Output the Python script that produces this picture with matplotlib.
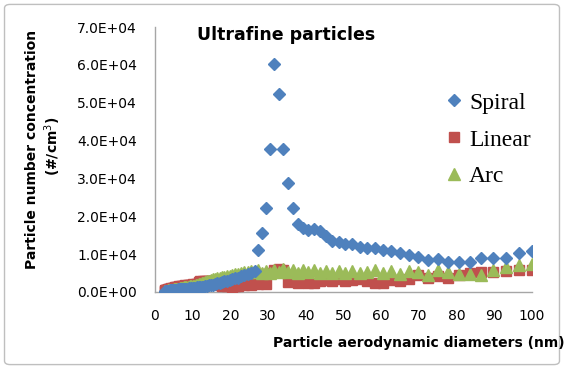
import matplotlib
matplotlib.use('Agg')
import matplotlib.pyplot as plt
from matplotlib.patches import FancyBboxPatch
from matplotlib.ticker import FuncFormatter, MultipleLocator

# particle aerodynamic diameter bins (nm)
diameters = [
    2.55, 2.64, 2.74, 2.84, 2.94, 3.05, 3.16, 3.28, 3.40, 3.52,
    3.65, 3.79, 3.92, 4.07, 4.22, 4.37, 4.53, 4.70, 4.87, 5.05,
    5.23, 5.43, 5.62, 5.83, 6.04, 6.26, 6.49, 6.73, 6.98, 7.23,
    7.50, 7.77, 8.06, 8.35, 8.66, 8.98, 9.31, 9.65,
    10.00, 10.37, 10.75, 11.14, 11.55, 11.97, 12.41, 12.86, 13.34, 13.82,
    14.33, 14.86, 15.40, 15.96, 16.55, 17.15, 17.78, 18.43, 19.11, 19.81,
    20.54, 21.29, 22.07, 22.88, 23.71, 24.58, 25.48, 26.42, 27.38, 28.39,
    29.43, 30.51, 31.62, 32.78, 33.98, 35.22, 36.52, 37.85, 39.24, 40.68,
    42.17, 43.71, 45.32, 46.98, 48.70, 50.48, 52.33, 54.25, 56.23, 58.29,
    60.43, 62.64, 64.94, 67.32, 69.78, 72.34, 74.99, 77.74, 80.58, 83.54,
    86.60, 89.77, 93.06, 96.47, 100.00,
]

spiral = [
    100, 150, 100, 200, 150, 250, 200, 300, 250, 300,
    350, 300, 400, 350, 450, 400, 500, 450, 550, 500,
    600, 550, 650, 600, 700, 650, 700, 750, 700, 800,
    750, 850, 800, 900, 850, 950, 900, 1000,
    1000, 1100, 1100, 1200, 1250, 1300, 1400, 1450, 1550, 1650,
    1750, 1850, 1950, 2100, 2250, 2400, 2600, 2800, 3000, 3200,
    3400, 3600, 3800, 4100, 4400, 4700, 5000, 5600, 11100, 15600,
    22100, 37700, 60300, 52400, 37700, 28800, 22100, 18000, 17000, 16300,
    16700, 16000, 14800, 13500, 13200, 12800, 12700, 11800, 11600, 11700,
    11100, 10700, 10200, 9800, 9300, 8400, 8600, 8000, 8000, 8000,
    9100, 9100, 9100, 10200, 10900,
]

linear = [
    300, 400, 300, 500, 400, 500, 600, 500, 700, 600,
    700, 800, 700, 900, 800, 1000, 900, 1000, 1100, 1000,
    1200, 1100, 1300, 1200, 1400, 1300, 1500, 1400, 1600, 1500,
    1700, 1600, 1800, 1700, 1800, 1900, 1800, 1900,
    2000, 1900, 2100, 2000, 2600, 2800, 2700, 2900, 2800, 2900,
    2800, 2900, 2800, 2700, 2900, 1800, 1600, 1900, 1500, 1800,
    1400, 1700, 1500, 2000, 1800, 2200, 1900, 2400, 2000, 4800,
    2200, 5000, 5800, 6000, 5800, 2600, 3000, 2500, 3200, 2400,
    2300, 3000, 3200, 3000, 3300, 2900, 3100, 3300, 3000, 2500,
    2400, 3200, 3000, 3300, 4500, 3800, 4200, 3800, 4600, 5000,
    5300, 5300, 5500, 5800, 5800,
]

arc = [
    100, 200, 150, 250, 200, 300, 250, 350, 300, 400,
    400, 500, 450, 550, 500, 600, 550, 650, 600, 700,
    700, 800, 750, 850, 800, 900, 900, 1000, 950, 1100,
    1100, 1200, 1200, 1300, 1300, 1400, 1500, 1500,
    1600, 1700, 1800, 1900, 2000, 2200, 2300, 2500, 2600, 2800,
    3000, 3100, 3300, 3400, 3600, 3700, 3900, 4000, 4200, 4300,
    4500, 4700, 4800, 5000, 5200, 5400, 5600, 5200, 5800, 5000,
    5600, 5000, 5800, 5200, 6000, 5300, 5800, 5100, 5900, 5200,
    5700, 5100, 5600, 5000, 5500, 4900, 5600, 5000, 5400, 5800,
    5000, 5500, 4800, 5600, 5300, 4500, 5700, 5300, 4800, 4800,
    4400, 5700, 6600, 7100, 7400,
]

fig = plt.figure(figsize=(5.64, 3.69), dpi=100)
ax = fig.add_axes([0.2748, 0.2087, 0.6685, 0.7181])

# chart frame around the whole figure
frame = FancyBboxPatch((0.008, 0.012), 0.984, 0.976,
                       boxstyle='round,pad=0,rounding_size=0.01',
                       transform=fig.transFigure, facecolor='none',
                       edgecolor='#bfbfbf', linewidth=1)
fig.patches.append(frame)

ax.plot(diameters, linear, linestyle='none', marker='s', markersize=7,
        color='#C0504D', label='Linear', zorder=3)
ax.plot(diameters, arc, linestyle='none', marker='^', markersize=8,
        color='#9BBB59', label='Arc', zorder=4)
ax.plot(diameters, spiral, linestyle='none', marker='D', markersize=6.5,
        color='#4F81BD', label='Spiral', zorder=5)

ax.set_xlim(0, 100)
ax.set_ylim(0, 70000)
ax.xaxis.set_major_locator(MultipleLocator(10))
ax.yaxis.set_major_locator(MultipleLocator(10000))
ax.yaxis.set_major_formatter(FuncFormatter(lambda v, p: f'{v:.1E}'))

for side in ('top', 'right'):
    ax.spines[side].set_visible(False)
for side in ('left', 'bottom'):
    ax.spines[side].set_color('#a6a6a6')
    ax.spines[side].set_linewidth(1)
ax.tick_params(length=0, labelsize=10, colors='#000000')
ax.tick_params(axis='x', pad=12)
ax.tick_params(axis='y', pad=13)

fig.text(0.508, 0.905, 'Ultrafine particles', fontsize=12.5,
         fontweight='bold', ha='center', va='center')
fig.text(0.742, 0.07, 'Particle aerodynamic diameters (nm)', fontsize=10,
         fontweight='bold', ha='center', va='center')
fig.text(0.057, 0.595, 'Particle number concentration', fontsize=10,
         fontweight='bold', rotation=90, ha='center', va='center')
fig.text(0.094, 0.605, '(#/cm$^3$)', fontsize=10,
         fontweight='bold', rotation=90, ha='center', va='center')

handles, labels = ax.get_legend_handles_labels()
order = [2, 0, 1]
ax.legend([handles[i] for i in order], [labels[i] for i in order],
          loc='upper left', bbox_to_anchor=(0.744, 0.79), frameon=False,
          numpoints=1, handlelength=0.8, handletextpad=0.23,
          labelspacing=0.65, borderaxespad=0,
          prop={'family': 'Liberation Serif', 'size': 17})

fig.savefig('out.png', dpi=100)
